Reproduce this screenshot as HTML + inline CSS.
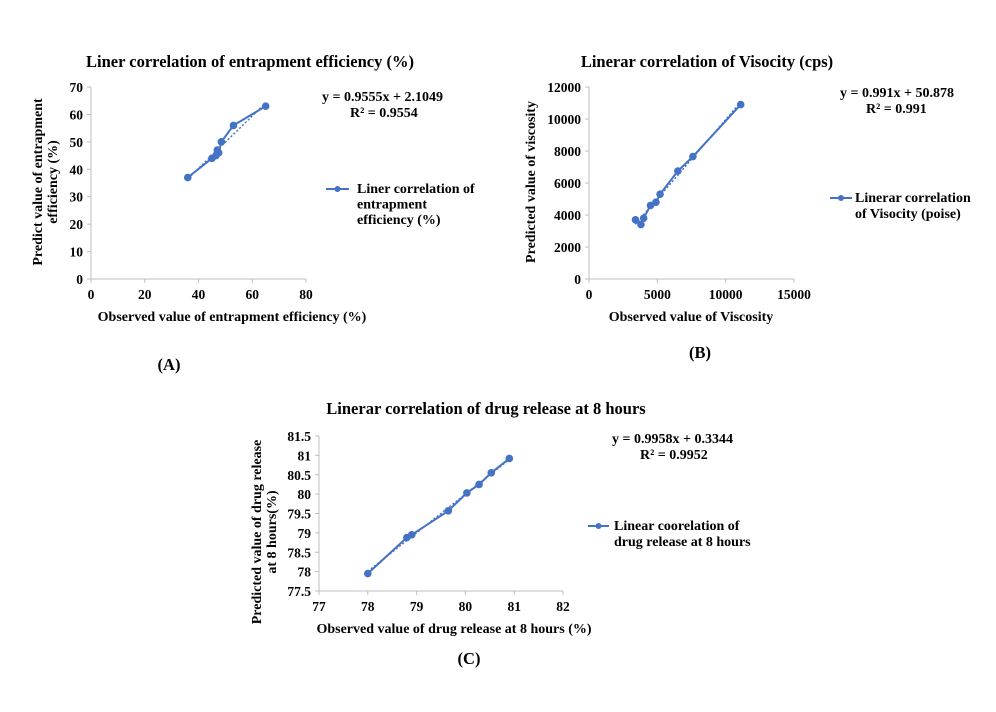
<!DOCTYPE html>
<html><head><meta charset="utf-8">
<style>
body{margin:0;background:#fff;width:996px;height:707px;overflow:hidden;}
svg{font-family:"Liberation Serif",serif;font-weight:bold;}
</style></head>
<body>
<svg id="root" width="996" height="707" viewBox="0 0 996 707"></svg>
<script>
// Chart A data
const aX = [36, 45, 46.5, 47, 47.5, 48.5, 53, 65];
const aY = [37, 44, 45, 47, 46, 50, 56, 63];
const aXTicks = [0, 20, 40, 60, 80];
const aYTicks = [0, 10, 20, 30, 40, 50, 60, 70];
const aFit = [0.9555, 2.1049];
// Chart B data
const bX = [3400, 3800, 4000, 4500, 4900, 5200, 6500, 7600, 11100];
const bY = [3700, 3400, 3800, 4600, 4800, 5300, 6750, 7650, 10900];
const bXTicks = [0, 5000, 10000, 15000];
const bYTicks = [0, 2000, 4000, 6000, 8000, 10000, 12000];
const bFit = [0.991, 50.878];
// Chart C data
const cX = [78, 78.8, 78.9, 79.65, 80.03, 80.28, 80.53, 80.9];
const cY = [77.95, 78.88, 78.95, 79.57, 80.03, 80.25, 80.55, 80.92];
const cXTicks = [77, 78, 79, 80, 81, 82];
const cYTicks = [77.5, 78, 78.5, 79, 79.5, 80, 80.5, 81, 81.5];
const cFit = [0.9958, 0.3344];

const NS = "http://www.w3.org/2000/svg";
const root = document.getElementById('root');
const BLUE = "#4472c4";
function mk(tag, attrs, parent, text){
  const e = document.createElementNS(NS, tag);
  for (const k in attrs) e.setAttribute(k, attrs[k]);
  if (text !== undefined) e.textContent = text;
  (parent || root).appendChild(e);
  return e;
}
function chart(cfg){
  const g = mk('g', {});
  
  
  const xs = cfg.xt, ys = cfg.yt;
  const x0 = xs[0], x1 = xs[xs.length-1], y0 = ys[0], y1 = ys[ys.length-1];
  const sx = v => cfg.L + (v - x0) / (x1 - x0) * (cfg.R - cfg.L);
  const sy = v => cfg.B - (v - y0) / (y1 - y0) * (cfg.B - cfg.T);
  const ax = mk('g', {}, g);
  
  
  mk('line', {x1: cfg.L, y1: cfg.T, x2: cfg.L, y2: cfg.B, stroke: '#bfbfbf'}, ax);
  mk('line', {x1: cfg.L, y1: cfg.B, x2: cfg.R, y2: cfg.B, stroke: '#bfbfbf'}, ax);
  xs.forEach(v => {
    mk('line', {x1: sx(v), y1: cfg.B, x2: sx(v), y2: cfg.B + 4, stroke: '#bfbfbf'}, ax);
    const t = mk('text', {x: sx(v), y: cfg.B + 20, 'text-anchor': 'middle', 'font-size': 13.5}, ax, String(v));
    
    
  });
  ys.forEach(v => {
    mk('line', {x1: cfg.L - 4, y1: sy(v), x2: cfg.L, y2: sy(v), stroke: '#bfbfbf'}, ax);
    const t = mk('text', {x: cfg.L - 8, y: sy(v) + 5, 'text-anchor': 'end', 'font-size': 13.5}, ax, String(v));
    
    
  });
  const xmin = Math.min(...cfg.x), xmax = Math.max(...cfg.x);
  const tr = mk('line', {x1: sx(xmin), y1: sy(cfg.fit[0]*xmin + cfg.fit[1]), x2: sx(xmax), y2: sy(cfg.fit[0]*xmax + cfg.fit[1]), stroke: BLUE, 'stroke-width': 1.5, 'stroke-dasharray': '2,2'}, g);
  
  
  const idx = cfg.x.map((v, i) => i).sort((a, b) => cfg.x[a] - cfg.x[b]);
  const pts = idx.map(i => sx(cfg.x[i]) + ',' + sy(cfg.y[i])).join(' ');
  const pl = mk('polyline', {points: pts, fill: 'none', stroke: BLUE, 'stroke-width': 2}, g);
  
  
  cfg.x.forEach((v, i) => {
    const c = mk('circle', {cx: sx(v), cy: sy(cfg.y[i]), r: 3.8, fill: BLUE}, g);
    
    
  });
}
chart({name: 'chart-a', L: 91, R: 306, T: 87, B: 279, x: aX, y: aY, xt: aXTicks, yt: aYTicks, fit: aFit});
chart({name: 'chart-b', L: 589, R: 794, T: 87, B: 279, x: bX, y: bY, xt: bXTicks, yt: bYTicks, fit: bFit});
chart({name: 'chart-c', L: 319, R: 563, T: 436, B: 591, x: cX, y: cY, xt: cXTicks, yt: cYTicks, fit: cFit});
</script>
<svg width="996" height="707" style="position:absolute;left:0;top:0">
<g font-family="Liberation Serif, serif" font-weight="bold">
<text x="250" y="67" text-anchor="middle" font-size="16.5">Liner correlation of entrapment efficiency (%)</text>
<text x="232" y="321" text-anchor="middle" font-size="14">Observed value of entrapment efficiency (%)</text>
<text transform="translate(42,182) rotate(-90)" text-anchor="middle" font-size="14"><tspan x="0" y="0">Predict value of entrapment</tspan><tspan x="0" y="15">efficiency (%)</tspan></text>
<text x="322" y="101" font-size="14">y = 0.9555x + 2.1049</text>
<text x="350" y="117" font-size="14">R² = 0.9554</text>
<g><line x1="326" y1="189" x2="349" y2="189" stroke="#4472c4" stroke-width="2"/><circle cx="337.5" cy="189" r="3" fill="#4472c4"/>
<text x="357" y="193" font-size="14"><tspan x="357">Liner correlation of</tspan><tspan x="357" dy="15.5">entrapment</tspan><tspan x="357" dy="15.5">efficiency (%)</tspan></text></g>
<text x="169" y="370" text-anchor="middle" font-size="16.5">(A)</text>

<text x="707" y="67" text-anchor="middle" font-size="16.5">Linerar correlation of Visocity (cps)</text>
<text x="691" y="321" text-anchor="middle" font-size="14">Observed value of Viscosity</text>
<text transform="translate(535,182) rotate(-90)" text-anchor="middle" font-size="14">Predicted value of viscosity</text>
<text x="840" y="97" font-size="14">y = 0.991x + 50.878</text>
<text x="866" y="113" font-size="14">R² = 0.991</text>
<g><line x1="830" y1="198" x2="852" y2="198" stroke="#4472c4" stroke-width="2"/><circle cx="841" cy="198" r="3" fill="#4472c4"/>
<text font-size="14"><tspan x="855" y="202">Linerar correlation</tspan><tspan x="855" dy="16">of Visocity (poise)</tspan></text></g>
<text x="700" y="358" text-anchor="middle" font-size="16.5">(B)</text>

<text x="486" y="414" text-anchor="middle" font-size="16.5">Linerar correlation of drug release at 8 hours</text>
<text x="454" y="633" text-anchor="middle" font-size="14">Observed value of drug release at 8 hours (%)</text>
<text transform="translate(261,532) rotate(-90)" text-anchor="middle" font-size="14"><tspan x="0" y="0">Predicted value of drug release</tspan><tspan x="0" y="15">at 8 hours(%)</tspan></text>
<text x="612" y="443" font-size="14">y = 0.9958x + 0.3344</text>
<text x="640" y="459" font-size="14">R² = 0.9952</text>
<g><line x1="588" y1="526" x2="609" y2="526" stroke="#4472c4" stroke-width="2"/><circle cx="598.5" cy="526" r="3" fill="#4472c4"/>
<text font-size="14"><tspan x="614" y="530">Linear coorelation of</tspan><tspan x="614" dy="16">drug release at 8 hours</tspan></text></g>
<text x="469" y="664" text-anchor="middle" font-size="16.5">(C)</text>
</g></svg>
</body></html>
